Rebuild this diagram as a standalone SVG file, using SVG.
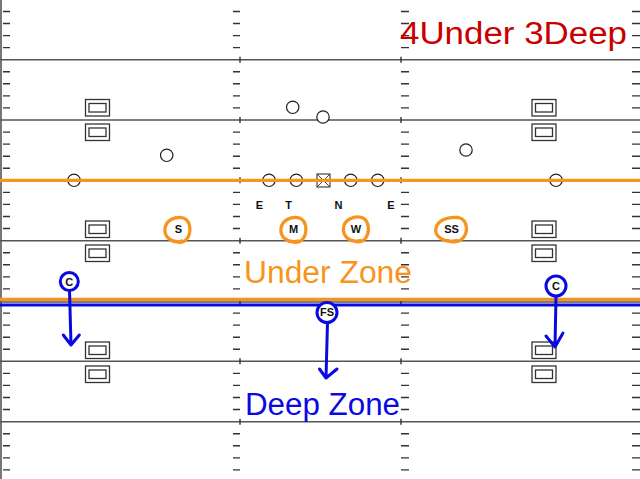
<svg xmlns="http://www.w3.org/2000/svg" width="640" height="479" viewBox="0 0 640 479">
<style>
.yl{stroke:#555;stroke-width:1.5}
.tk{stroke:#333;stroke-width:1.4}
.off{fill:#fff;stroke:#222;stroke-width:1.2}
.wr{fill:#fff;stroke:#333;stroke-width:1.3}
.lbl{font-family:"Liberation Sans",Arial,sans-serif;font-weight:bold;font-size:11px;fill:#111;text-anchor:middle}
.dz{fill:none;stroke:#f7941d;stroke-width:3.3;stroke-linecap:round}
.bc{fill:#fff;stroke:#0a0ae0;stroke-width:3}
.arr{fill:none;stroke:#0a0ae0;stroke-width:3;stroke-linecap:round;stroke-linejoin:round}
.big{font-family:"Liberation Sans",Arial,sans-serif;font-size:31px}
</style>
<defs>
<g id="rec"><rect class="wr" x="0" y="0" width="24" height="16.5"/><rect class="wr" x="3.5" y="4" width="17" height="8.5"/></g>
<path id="loop" d="M 4 11.5 C -6 14.5, -13.5 7, -12.5 -1 C -11.5 -9.5, -2 -13.5, 6 -11.5 C 13.5 -8.5, 14.5 4, 8.5 10.5 C 5 13.5, 0 13.5, -3 11.5"/>
</defs>
<rect x="0" y="0" width="640" height="479" fill="#fff"/>
<g id="field">
<rect x="0" y="0" width="2" height="479" fill="#777"/>
<g class="yl">
<line x1="0" y1="59.7" x2="640" y2="59.7"/>
<line x1="0" y1="120" x2="640" y2="120"/>
<line x1="0" y1="180.3" x2="640" y2="180.3"/>
<line x1="0" y1="240.7" x2="640" y2="240.7"/>
<line x1="0" y1="302" x2="640" y2="302"/>
<line x1="0" y1="361.3" x2="640" y2="361.3"/>
<line x1="0" y1="421.7" x2="640" y2="421.7"/>
</g>
<g class="tk" id="ticks">
<path d="M3 11.5H10M233 11.5H240M401 11.5H409M632 11.5H640M3 23.5H10M233 23.5H240M401 23.5H409M632 23.5H640M3 35.6H10M233 35.6H240M401 35.6H409M632 35.6H640M3 47.6H10M233 47.6H240M401 47.6H409M632 47.6H640"/>
<path d="M3 71.8H10M233 71.8H240M401 71.8H409M632 71.8H640M3 83.8H10M233 83.8H240M401 83.8H409M632 83.8H640M3 95.9H10M233 95.9H240M401 95.9H409M632 95.9H640M3 107.9H10M233 107.9H240M401 107.9H409M632 107.9H640"/>
<path d="M3 132.1H10M233 132.1H240M401 132.1H409M632 132.1H640M3 144.1H10M233 144.1H240M401 144.1H409M632 144.1H640M3 156.2H10M233 156.2H240M401 156.2H409M632 156.2H640M3 168.2H10M233 168.2H240M401 168.2H409M632 168.2H640"/>
<path d="M3 192.4H10M233 192.4H240M401 192.4H409M632 192.4H640M3 204.4H10M233 204.4H240M401 204.4H409M632 204.4H640M3 216.5H10M233 216.5H240M401 216.5H409M632 216.5H640M3 228.5H10M233 228.5H240M401 228.5H409M632 228.5H640"/>
<path d="M3 252.8H10M233 252.8H240M401 252.8H409M632 252.8H640M3 264.8H10M233 264.8H240M401 264.8H409M632 264.8H640M3 276.9H10M233 276.9H240M401 276.9H409M632 276.9H640M3 288.9H10M233 288.9H240M401 288.9H409M632 288.9H640"/>
<path d="M3 313.1H10M233 313.1H240M401 313.1H409M632 313.1H640M3 325.1H10M233 325.1H240M401 325.1H409M632 325.1H640M3 337.2H10M233 337.2H240M401 337.2H409M632 337.2H640M3 349.2H10M233 349.2H240M401 349.2H409M632 349.2H640"/>
<path d="M3 373.4H10M233 373.4H240M401 373.4H409M632 373.4H640M3 385.4H10M233 385.4H240M401 385.4H409M632 385.4H640M3 397.5H10M233 397.5H240M401 397.5H409M632 397.5H640M3 409.5H10M233 409.5H240M401 409.5H409M632 409.5H640"/>
<path d="M3 433.8H10M233 433.8H240M401 433.8H409M632 433.8H640M3 445.8H10M233 445.8H240M401 445.8H409M632 445.8H640M3 457.9H10M233 457.9H240M401 457.9H409M632 457.9H640M3 469.9H10M233 469.9H240M401 469.9H409M632 469.9H640"/>
<path d="M240 56.7V62.7M401 56.7V62.7M240 117V123M401 117V123M240 177.3V183.3M401 177.3V183.3M240 237.7V243.7M401 237.7V243.7M240 299V305M401 299V305M240 358.3V364.3M401 358.3V364.3M240 418.7V424.7M401 418.7V424.7"/>
</g>
</g>
<g id="receivers">
<use href="#rec" x="85.5" y="99.5"/><use href="#rec" x="85.5" y="124"/>
<use href="#rec" x="532" y="99.5"/><use href="#rec" x="532" y="124"/>
<use href="#rec" x="85.5" y="221"/><use href="#rec" x="85.5" y="245"/>
<use href="#rec" x="532" y="221"/><use href="#rec" x="532" y="245"/>
<use href="#rec" x="85.5" y="342"/><use href="#rec" x="85.5" y="366"/>
<use href="#rec" x="532" y="342"/><use href="#rec" x="532" y="366"/>
</g>
<g id="offense">
<circle class="off" cx="292.7" cy="107.3" r="6.2"/>
<circle class="off" cx="323" cy="117" r="6.2"/>
<circle class="off" cx="166.7" cy="155.3" r="6.2"/>
<circle class="off" cx="466" cy="150" r="6.2"/>
<circle class="off" cx="74" cy="180.3" r="6.2"/>
<circle class="off" cx="269" cy="180.3" r="6.2"/>
<circle class="off" cx="296.3" cy="180.3" r="6.2"/>
<g id="center"><rect x="317" y="174" width="13" height="13" fill="#fff" stroke="#444" stroke-width="1.2"/><path d="M317 174L330 187M330 174L317 187" stroke="#444" stroke-width="1"/></g>
<circle class="off" cx="350.7" cy="180.3" r="6.2"/>
<circle class="off" cx="377.7" cy="180.3" r="6.2"/>
<circle class="off" cx="556" cy="180.3" r="6.2"/>
</g>
<g id="zone-lines">
<line x1="0" y1="180.3" x2="640" y2="180.3" stroke="#f7941d" stroke-width="3.2"/>
<line x1="0" y1="299.3" x2="640" y2="299.3" stroke="#f7941d" stroke-width="3.2"/>
<line x1="0" y1="305" x2="640" y2="305" stroke="#0a0ae0" stroke-width="3.2"/>
</g>
<g id="line-labels">
<text class="lbl" x="259.3" y="208.5">E</text>
<text class="lbl" x="288.7" y="208.5">T</text>
<text class="lbl" x="338.5" y="208.5">N</text>
<text class="lbl" x="391" y="208.5">E</text>
</g>
<g id="def-S"><use href="#loop" class="dz" transform="translate(177.5 229.5)"/><text class="lbl" x="178.5" y="232.5">S</text></g>
<g id="def-M"><use href="#loop" class="dz" transform="translate(293.5 229.5)"/><text class="lbl" x="293.5" y="232.5">M</text></g>
<g id="def-W"><use href="#loop" class="dz" transform="translate(356 229)"/><text class="lbl" x="356" y="232.5">W</text></g>
<g id="def-SS"><path class="dz" transform="translate(451.5 229)" d="M 5 11.5 C -8 14.5, -17.5 7, -15.5 -1 C -13.5 -9.5, -3 -12.5, 7 -11.5 C 16.5 -9, 17.5 4, 10 10.5 C 6 13.5, 0 13.5, -4 11.5"/><text class="lbl" x="451.5" y="232.5">SS</text></g>
<g id="connectors">
<path class="arr" d="M69.5 290L71 345M63.3 335L71 345L79.3 335"/>
<path class="arr" d="M556 296L555 347M546 336L555 347L563 333"/>
<path class="arr" d="M327.5 322L326 378M319.5 369L326 378L337 369"/>
</g>
<g id="def-C-left"><circle class="bc" cx="69.3" cy="281.5" r="9"/><text class="lbl" x="69.3" y="285.5">C</text></g>
<g id="def-C-right"><circle class="bc" cx="556" cy="286" r="10"/><text class="lbl" x="556" y="290">C</text></g>
<g id="def-FS"><circle class="bc" cx="327" cy="312.5" r="10"/><text class="lbl" x="327" y="316.3">FS</text></g>
<text class="big" x="400" y="43.5" fill="#c80000" font-size="32" textLength="227" lengthAdjust="spacingAndGlyphs">4Under 3Deep</text>
<text class="big" x="244" y="283.3" fill="#f7941d" textLength="168" lengthAdjust="spacingAndGlyphs">Under Zone</text>
<text class="big" x="245" y="415" fill="#0a0ae0" textLength="155" lengthAdjust="spacingAndGlyphs">Deep Zone</text>
</svg>
